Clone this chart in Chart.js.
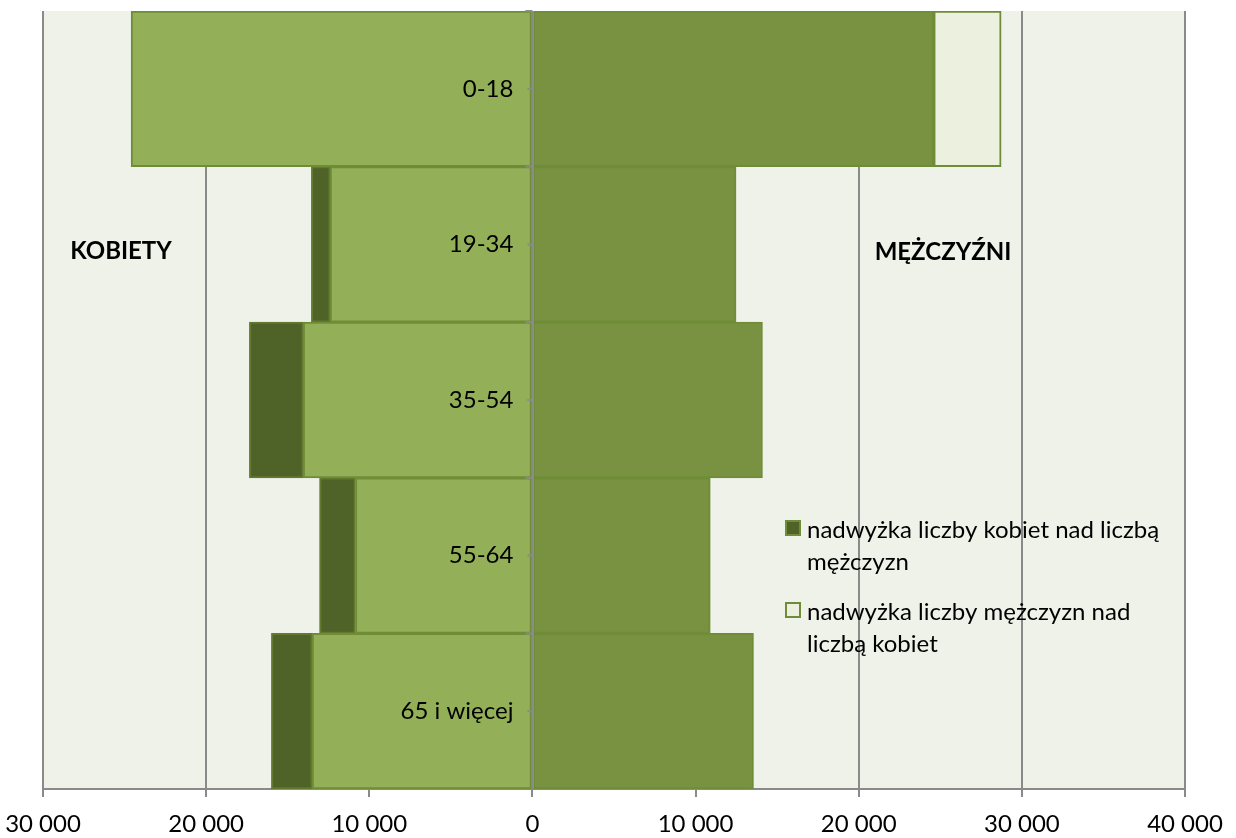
<!DOCTYPE html>
<html>
<head>
<meta charset="utf-8">
<script src="https://cdn.jsdelivr.net/npm/chart.js@4.4.0/dist/chart.umd.min.js"></script>
<style>
  html, body { margin: 0; padding: 0; background: #ffffff; }
  #wrap { width: 1236px; height: 838px; position: relative; }
</style>
</head>
<body>
<div id="wrap"><canvas id="piramida"></canvas></div>
<script>
// grupy wieku (od gory)
const grupyWieku = ['0-18', '19-34', '35-54', '55-64', '65 i więcej'];
// wspolna czesc kobiet (lewa strona)
const kobietyWspolne = [24600, 12400, 14050, 10850, 13500];
// nadwyzka kobiet nad mezczyznami
const nadwyzkaKobiet = [0, 1150, 3300, 2200, 2500];
// mezczyzni (prawa strona)
const mezczyzniWspolne = [24600, 12480, 14100, 10900, 13550];
// nadwyzka mezczyzn nad kobietami
const nadwyzkaMezczyzn = [4130, 0, 0, 0, 0];
// etykiety osi X
const xMin = -30000, xMax = 40000, xKrok = 10000;

const legendaOpisy = [
    ['nadwyżka liczby kobiet nad liczbą', 'mężczyzn'],
    ['nadwyżka liczby mężczyzn nad', 'liczbą kobiet']
];

const FONT = 'Lato, "Open Sans", sans-serif';
const SZARY = '#8a8a8a';
const RAMKA = '#6f8c37';

function formatTys(v) {
    return String(Math.abs(v)).replace(/\B(?=(\d{3})+(?!\d))/g, ' ');
}

const tloWykresu = {
    id: 'tloWykresu',
    beforeDraw(chart) {
        const {ctx, chartArea: a} = chart;
        ctx.save();
        ctx.fillStyle = '#eff2e9';
        ctx.fillRect(a.left, a.top, a.right - a.left, a.bottom - a.top);
        ctx.restore();
    }
};

const opisy = {
    id: 'opisy',
    afterDraw(chart) {
        const ctx = chart.ctx;
        const ys = chart.scales.y;
        const x0 = chart.scales.x.getPixelForValue(0);
        ctx.save();

        // os pionowa na zerze + kreski
        ctx.strokeStyle = SZARY;
        ctx.lineWidth = 2;
        ctx.beginPath();
        ctx.moveTo(x0, chart.chartArea.top);
        ctx.lineTo(x0, chart.chartArea.bottom);
        grupyWieku.forEach((g, i) => {
            const py = ys.getPixelForValue(i);
            const half = (ys.getPixelForValue(1) - ys.getPixelForValue(0)) / 2;
            ctx.moveTo(x0 - 5, py);
            ctx.lineTo(x0, py);
            ctx.moveTo(x0 - 7, py - half);
            ctx.lineTo(x0, py - half);
        });
        ctx.stroke();

        // etykiety grup wieku
        ctx.fillStyle = '#000';
        ctx.font = '24px ' + FONT;
        ctx.textAlign = 'right';
        ctx.textBaseline = 'middle';
        grupyWieku.forEach((g, i) => {
            ctx.fillText(g, x0 - 19, ys.getPixelForValue(i));
        });

        ctx.font = 'bold 24px ' + FONT;
        ctx.textAlign = 'center';
        ctx.fillText('KOBIETY', 121, 251);
        ctx.fillText('MĘŻCZYŹNI', 943, 252);

        // legenda
        const kolory = [chart.data.datasets[1], chart.data.datasets[3]];
        const tops = [520, 602];
        ctx.font = '24px ' + FONT;
        ctx.textAlign = 'left';
        kolory.forEach((ds, i) => {
            const y = tops[i];
            ctx.fillStyle = ds.backgroundColor;
            ctx.fillRect(786, y + 1, 14, 14);
            ctx.strokeStyle = RAMKA;
            ctx.lineWidth = 2;
            ctx.strokeRect(786, y + 1, 14, 14);
            ctx.fillStyle = '#000';
            legendaOpisy[i].forEach((t, j) => {
                ctx.fillText(t, 807, y + 10 + j * 32);
            });
        });
        ctx.restore();
    }
};

const piramidaData = {
    labels: grupyWieku,
    datasets: [{
        label: 'kobiety',
        data: kobietyWspolne.map(v => -v),
        backgroundColor: '#93af57',
        borderColor: RAMKA,
        borderWidth: 2,
        borderSkipped: false
    }, {
        label: 'nadwyżka liczby kobiet nad liczbą mężczyzn',
        data: nadwyzkaKobiet.map(v => -v),
        backgroundColor: '#4f6228',
        borderColor: '#62792f',
        borderWidth: 2,
        borderSkipped: false
    }, {
        label: 'mężczyźni',
        data: mezczyzniWspolne,
        backgroundColor: '#789241',
        borderColor: RAMKA,
        borderWidth: 2,
        borderSkipped: false
    }, {
        label: 'nadwyżka liczby mężczyzn nad liczbą kobiet',
        data: nadwyzkaMezczyzn,
        backgroundColor: '#ebf0df',
        borderColor: RAMKA,
        borderWidth: 2,
        borderSkipped: false
    }]
};

const piramidaConfig = {
    type: 'bar',
    data: piramidaData,
    options: {
        indexAxis: 'y',
        responsive: true,
        maintainAspectRatio: false,
        animation: false,
        barPercentage: 1,
        categoryPercentage: 1,
        layout: { padding: { left: 43, right: 51, top: 11, bottom: 0 } },
        plugins: {
            legend: { display: false },
            tooltip: { enabled: false }
        },
        scales: {
            x: {
                type: 'linear',
                stacked: true,
                min: xMin,
                max: xMax,
                ticks: {
                    stepSize: xKrok,
                    color: '#000',
                    font: { family: FONT, size: 24 },
                    padding: 13,
                    maxRotation: 0,
                    callback: v => formatTys(v)
                },
                grid: { color: SZARY, lineWidth: 2, tickLength: 8 },
                border: { color: SZARY, width: 2 },
                afterFit(scale) {
                    scale.height = 49;
                    scale.paddingLeft = 0;
                    scale.paddingRight = 0;
                }
            },
            y: {
                type: 'category',
                stacked: true,
                position: { x: 0 },
                ticks: { display: false },
                grid: { display: false },
                border: { display: false },
                afterFit(scale) {
                    scale.paddingTop = 0;
                    scale.paddingBottom = 0;
                    scale.paddingLeft = 0;
                    scale.paddingRight = 0;
                }
            }
        }
    },
    plugins: [tloWykresu, opisy]
};

var piramida = new Chart(document.getElementById('piramida'), piramidaConfig);
</script>
</body>
</html>
